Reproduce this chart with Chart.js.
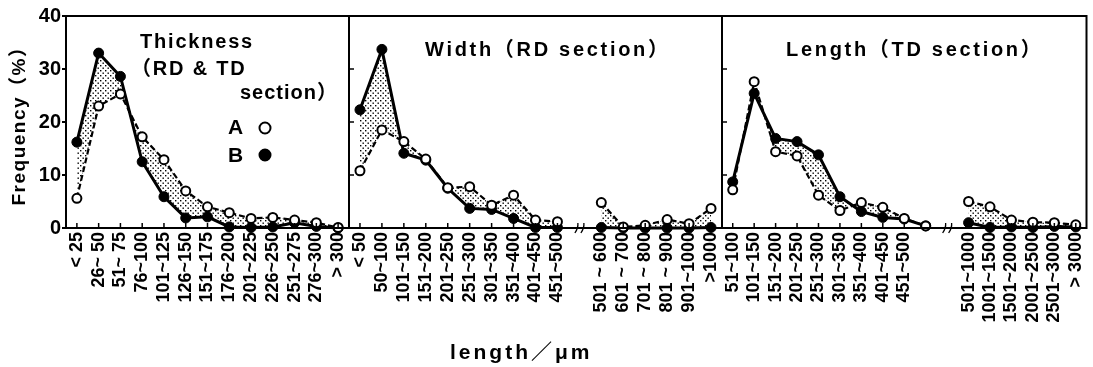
<!DOCTYPE html>
<html>
<head>
<meta charset="utf-8">
<script src="https://cdn.jsdelivr.net/npm/chart.js@4.4.0/dist/chart.umd.min.js"></script>
<style>
  html, body { margin: 0; padding: 0; background: #fff; }
  #wrap { position: relative; width: 1093px; height: 367px; }
  #wrap canvas { position: absolute; left: 0; top: 0; }
</style>
</head>
<body>
<div id="wrap">
  <canvas id="thickChart" width="1093" height="367"></canvas>
  <canvas id="widthChart" width="1093" height="367"></canvas>
  <canvas id="lengthChart" width="1093" height="367"></canvas>
</div>
<script>
// Thickness (RD & TD section)
const thickLabels = ["< 25", "26~ 50", "51~ 75", "76~100", "101~125", "126~150", "151~175",
  "176~200", "201~225", "226~250", "251~275", "276~300", "> 300"];
const thickA = [5.6, 23.0, 25.3, 17.2, 12.9, 7.0, 4.0, 2.9, 1.8, 2.0, 1.5, 1.0, 0.1];
const thickB = [16.2, 33.0, 28.6, 12.5, 5.9, 1.9, 2.1, 0.2, 0.1, 0.2, 1.0, 0.3, 0.0];

// Width (RD section) - empty slot = axis break
const widthLabels = ["< 50", "50~100", "101~150", "151~200", "201~250", "251~300", "301~350",
  "351~400", "401~450", "451~500", "", "501 ~ 600", "601 ~ 700", "701 ~ 800", "801 ~ 900",
  "901~1000", ">1000"];
const widthA = [10.8, 18.5, 16.3, 13.0, 7.6, 7.8, 4.3, 6.2, 1.5, 1.2, null, 4.8, 0.2, 0.5, 1.6, 0.8, 3.7];
const widthB = [22.3, 33.7, 14.1, 12.8, 7.5, 3.7, 3.5, 1.8, 0.1, 0.1, null, 0.1, 0.0, 0.0, 0.0, 0.0, 0.1];

// Length (TD section)
const lengthLabels = ["51~100", "101~150", "151~200", "201~250", "251~300", "301~350", "351~400",
  "401~450", "451~500", "", "", "501~1000", "1001~1500", "1501~2000", "2001~2500", "2501~3000",
  "> 3000"];
const lengthA = [7.2, 27.6, 14.4, 13.6, 6.2, 3.3, 4.8, 3.9, 1.8, 0.4, null, 5.0, 4.0, 1.5, 1.1, 1.0, 0.6];
const lengthB = [8.7, 25.4, 16.9, 16.3, 13.8, 5.9, 3.1, 2.0, 1.7, 0.4, null, 1.0, 0.1, 0.2, 0.1, 0.3, 0.2];

const yTicks = [0, 10, 20, 30, 40];

const FONT = "'Liberation Sans', Arial, 'Noto Sans CJK JP', sans-serif";

function dots(ctx) {
  const c = document.createElement("canvas");
  c.width = 5;
  c.height = 5;
  const g = c.getContext("2d");
  g.fillStyle = "#000";
  g.fillRect(0, 0, 1.4, 1.4);
  g.fillRect(2.5, 2.5, 1.4, 1.4);
  return ctx.createPattern(c, "repeat");
}

function seriesA(data) {
  return {
    label: "A", data,
    borderColor: "#000", borderWidth: 2.2, borderDash: [6, 3],
    pointRadius: 4.5, pointBackgroundColor: "#fff", pointBorderColor: "#000", pointBorderWidth: 2,
    fill: false, tension: 0, clip: false, spanGaps: false,
  };
}

function seriesB(data, pattern) {
  return {
    label: "B", data,
    borderColor: "#000", borderWidth: 3,
    pointRadius: 5, pointBackgroundColor: "#000", pointBorderColor: "#000", pointBorderWidth: 1,
    fill: "-1", backgroundColor: pattern, tension: 0, clip: false, spanGaps: false,
  };
}

const decor = {
  id: "decor",
  afterDraw(chart, args, opts) {
    const { ctx, chartArea: a } = chart;
    const x = chart.scales.x;
    const y = chart.scales.y;
    ctx.save();
    ctx.strokeStyle = "#000";
    ctx.fillStyle = "#000";

    // panel frame
    ctx.lineWidth = 2;
    ctx.strokeRect(a.left, a.top, a.right - a.left, a.bottom - a.top);

    // short inward ticks on the base line
    ctx.lineWidth = 1.5;
    chart.data.labels.forEach((lab, i) => {
      if (!lab) return;
      const px = x.getPixelForValue(i);
      ctx.beginPath();
      ctx.moveTo(px, a.bottom);
      ctx.lineTo(px, a.bottom - 5);
      ctx.stroke();
    });

    // inward ticks on the left edge
    if (opts.leftTicks) {
      yTicks.slice(1, -1).forEach((v) => {
        const py = y.getPixelForValue(v);
        ctx.beginPath();
        ctx.moveTo(a.left, py);
        ctx.lineTo(a.left + 5, py);
        ctx.stroke();
      });
    }

    // axis break mark
    if (opts.breakAt != null) {
      const bx = x.getPixelForValue(opts.breakAt);
      ctx.lineWidth = 1.3;
      [-3, 3].forEach((d) => {
        ctx.beginPath();
        ctx.moveTo(bx + d - 1.5, a.bottom + 5);
        ctx.quadraticCurveTo(bx + d + 2, a.bottom, bx + d + 1.5, a.bottom - 5);
        ctx.stroke();
      });
    }

    // texts
    ctx.textBaseline = "middle";
    (opts.texts || []).forEach((t) => {
      ctx.font = `bold ${t.size}px ${FONT}`;
      ctx.letterSpacing = t.spacing + "px";
      if (t.rotate) {
        ctx.save();
        ctx.translate(t.x, t.y);
        ctx.rotate(-Math.PI / 2);
        ctx.textAlign = "center";
        ctx.fillText(t.text, 0, 0);
        ctx.restore();
      } else {
        ctx.textAlign = "left";
        ctx.fillText(t.text, t.x, t.y);
      }
    });
    ctx.letterSpacing = "0px";

    // legend symbols
    (opts.markers || []).forEach((m) => {
      ctx.beginPath();
      ctx.arc(m.x, m.y, 5.5, 0, Math.PI * 2);
      ctx.lineWidth = 2;
      if (m.filled) ctx.fill();
      ctx.stroke();
    });
    ctx.restore();
  },
};

function xScale() {
  return {
    type: "category",
    offset: true,
    grid: { display: false, drawTicks: false },
    border: { display: false },
    ticks: {
      autoSkip: false, minRotation: 90, maxRotation: 90, padding: 4, color: "#000",
      font: { family: FONT, size: 18, weight: "bold" },
    },
    afterFit: (s) => {
      s.height = 139;
      s.paddingLeft = 0;
      s.paddingRight = 0;
    },
  };
}

function makePanel(id, labels, a, b, pad, showY, decorOpts) {
  const canvas = document.getElementById(id);
  const ctx = canvas.getContext("2d");
  const yScale = showY
    ? {
        min: 0, max: 40,
        ticks: { stepSize: 10, color: "#000", padding: 1, font: { family: FONT, size: 20, weight: "bold" } },
        grid: { drawOnChartArea: false, color: "#000", lineWidth: 2, tickLength: 4 },
        border: { display: false },
        afterFit: (s) => { s.width = 66; },
      }
    : { display: false, min: 0, max: 40 };
  new Chart(canvas, {
    type: "line",
    data: { labels, datasets: [seriesA(a), seriesB(b, dots(ctx))] },
    options: {
      responsive: false,
      animation: false,
      layout: { padding: pad },
      scales: { x: xScale(), y: yScale },
      plugins: { legend: { display: false }, tooltip: { enabled: false }, decor: decorOpts },
    },
    plugins: [decor],
  });
}

makePanel("thickChart", thickLabels, thickA, thickB,
  { left: 0, right: 744, top: 16, bottom: 0 }, true, {
    texts: [
      { text: "Thickness", x: 140, y: 42, size: 20, spacing: 1.8 },
      { text: "（RD & TD", x: 131, y: 69, size: 20, spacing: 1.8 },
      { text: "section）", x: 240, y: 93, size: 20, spacing: 1 },
      { text: "A", x: 228, y: 128, size: 21, spacing: 0 },
      { text: "B", x: 228, y: 156, size: 21, spacing: 0 },
      { text: "Frequency（%）", x: 20, y: 121, size: 19, spacing: 1.5, rotate: true },
      { text: "length／μm", x: 450, y: 353, size: 21, spacing: 3 },
    ],
    markers: [{ x: 265, y: 128, filled: false }, { x: 265, y: 155, filled: true }],
  });

makePanel("widthChart", widthLabels, widthA, widthB,
  { left: 349, right: 371, top: 16, bottom: 0 }, false, {
    leftTicks: true,
    breakAt: 10,
    texts: [{ text: "Width（RD section）", x: 425, y: 50, size: 20, spacing: 2.7 }],
  });

makePanel("lengthChart", lengthLabels, lengthA, lengthB,
  { left: 722, right: 0, top: 16, bottom: 0 }, false, {
    leftTicks: true,
    breakAt: 10,
    texts: [{ text: "Length（TD section）", x: 786, y: 50, size: 20, spacing: 2.7 }],
  });
</script>
</body>
</html>
